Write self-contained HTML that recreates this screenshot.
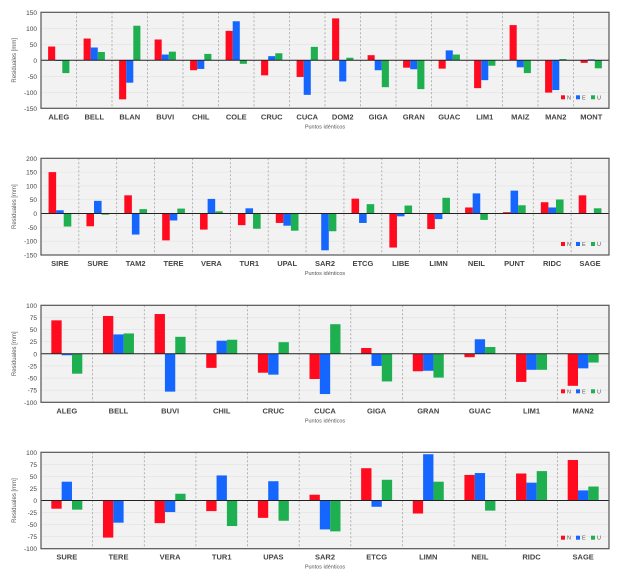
<!DOCTYPE html>
<html><head><meta charset="utf-8">
<style>
body{margin:0;background:#fff;width:629px;height:578px;overflow:hidden;font-family:"Liberation Sans",sans-serif;}
svg{display:block}
</style></head>
<body>
<svg id="chart" width="629" height="578" xmlns="http://www.w3.org/2000/svg"></svg>
<script>
const cats1=["ALEG","BELL","BLAN","BUVI","CHIL","COLE","CRUC","CUCA","DOM2","GIGA","GRAN","GUAC","LIM1","MAIZ","MAN2","MONT"];
const n1=[43,68,-122,65,-31,92,-47,-52,131,16,-23,-26,-87,110,-101,-8];
const e1=[-2,40,-70,18,-27,122,13,-108,-66,-31,-28,31,-62,-22,-93,3];
const u1=[-40,26,108,27,20,-11,22,42,8,-84,-90,18,-17,-40,4,-25];
const ticks1=[150,100,50,0,-50,-100,-150];

const cats2=["SIRE","SURE","TAM2","TERE","VERA","TUR1","UPAL","SAR2","ETCG","LIBE","LIMN","NEIL","PUNT","RIDC","SAGE"];
const n2=[150,-46,66,-97,-58,-42,-34,0,54,-123,-56,22,5,41,66];
const e2=[12,46,-76,-25,53,19,-44,-133,-34,-10,-20,73,83,22,0];
const u2=[-47,-4,16,18,8,-55,-62,-64,34,29,57,-23,30,51,19];
const ticks2=[200,150,100,50,0,-50,-100,-150];

const cats3=["ALEG","BELL","BUVI","CHIL","CRUC","CUCA","GIGA","GRAN","GUAC","LIM1","MAN2"];
const n3=[69,78,82,-29,-39,-52,12,-36,-7,-58,-66];
const e3=[-3,40,-78,27,-43,-83,-25,-35,30,-33,-30];
const u3=[-41,42,35,29,24,61,-57,-49,14,-33,-18];
const ticks3=[100,75,50,25,0,-25,-50,-75,-100];

const cats4=["SURE","TERE","VERA","TUR1","UPAS","SAR2","ETCG","LIMN","NEIL","RIDC","SAGE"];
const n4=[-17,-77,-47,-22,-36,12,67,-27,53,56,84];
const e4=[39,-46,-24,52,40,-60,-13,96,57,37,21];
const u4=[-19,1,14,-53,-42,-64,43,39,-21,61,29];
const ticks4=[100,75,50,25,0,-25,-50,-75,-100];

const NS="http://www.w3.org/2000/svg";
const svg=document.getElementById('chart');
const COLORS=["#ff0a1e","#1466ff","#1daf50"];
function mk(tag,attrs,parent){const el=document.createElementNS(NS,tag);for(const k in attrs)el.setAttribute(k,attrs[k]);(parent||svg).appendChild(el);return el;}

function panel(idx,top,bottom,cats,series,ticks){
  const g=mk('g',{});
  
  
  const L=41,R=609;
  const ymax=ticks[0],ymin=ticks[ticks.length-1];
  const y=v=>top+(ymax-v)/(ymax-ymin)*(bottom-top);
  const gw=(R-L)/cats.length;
  const x=i=>L+i*gw;
  const bg=mk('rect',{x:L,y:top,width:R-L,height:bottom-top,fill:"#f2f2f2"},g);
  
  
  ticks.forEach(t=>{
    const yy=y(t);
    if(t!==0&&t!==ymax&&t!==ymin){const gl=mk('line',{x1:L,x2:R,y1:yy,y2:yy,stroke:"#e2e2e2","stroke-width":0.6},g);
      
      }
    const tl=mk('text',{x:L-4,y:yy+2.5,"font-size":6.5,"text-anchor":"end",fill:"#444"},g);
    tl.textContent=t;
    
    
  });
  for(let i=1;i<cats.length;i++){
    const sl=mk('line',{x1:x(i),x2:x(i),y1:top,y2:bottom,stroke:"#999","stroke-width":0.7,"stroke-dasharray":"2,2"},g);
    
    
  }
  const bw=gw*0.2;
  cats.forEach((c,i)=>{
    const cx=x(i)+gw/2;
    series.forEach((s,k)=>{
      const v=s[i];const y0=y(0),yv=y(v);
      const b=mk('rect',{x:cx-1.5*bw+k*bw,y:Math.min(y0,yv),width:bw,height:Math.abs(yv-y0),fill:COLORS[k]},g);
      
      
    });
    const cl=mk('text',{x:cx,y:bottom+11,"font-size":7.5,"font-weight":"bold","text-anchor":"middle",fill:"#444"},g);
    cl.textContent=c;
    
    
  });
  const zl=mk('line',{x1:L,x2:R,y1:y(0),y2:y(0),stroke:"#222","stroke-width":1},g);
  
  
  const br=mk('rect',{x:L,y:top,width:R-L,height:bottom-top,fill:"none",stroke:"#555","stroke-width":1.2},g);
  
  
  const yt=mk('text',{x:0,y:0,"font-size":6,"text-anchor":"middle",fill:"#555",transform:`translate(16,${(top+bottom)/2}) rotate(-90)`},g);
  yt.textContent="Residuales [mm]";
  
  
  const xt=mk('text',{x:325,y:bottom+20,"font-size":5.5,"text-anchor":"middle",fill:"#555"},g);
  xt.textContent="Puntos idénticos";
  
  
  ["N","E","U"].forEach((lab,k)=>{
    const lx=561+k*15, ly=bottom-9;
    const lg=mk('g',{},g);
    
    
    mk('rect',{x:lx,y:ly-4,width:4,height:4,fill:COLORS[k]},lg);
    const lt=mk('text',{x:lx+6,y:ly,"font-size":5.5,fill:"#555"},lg);
    lt.textContent=lab;
  });
}
panel(1,12.3,108.3,cats1,[n1,e1,u1],ticks1);
panel(2,158.3,255,cats2,[n2,e2,u2],ticks2);
panel(3,305.3,402.3,cats3,[n3,e3,u3],ticks3);
panel(4,452.3,548.7,cats4,[n4,e4,u4],ticks4);
</script>
</body></html>
